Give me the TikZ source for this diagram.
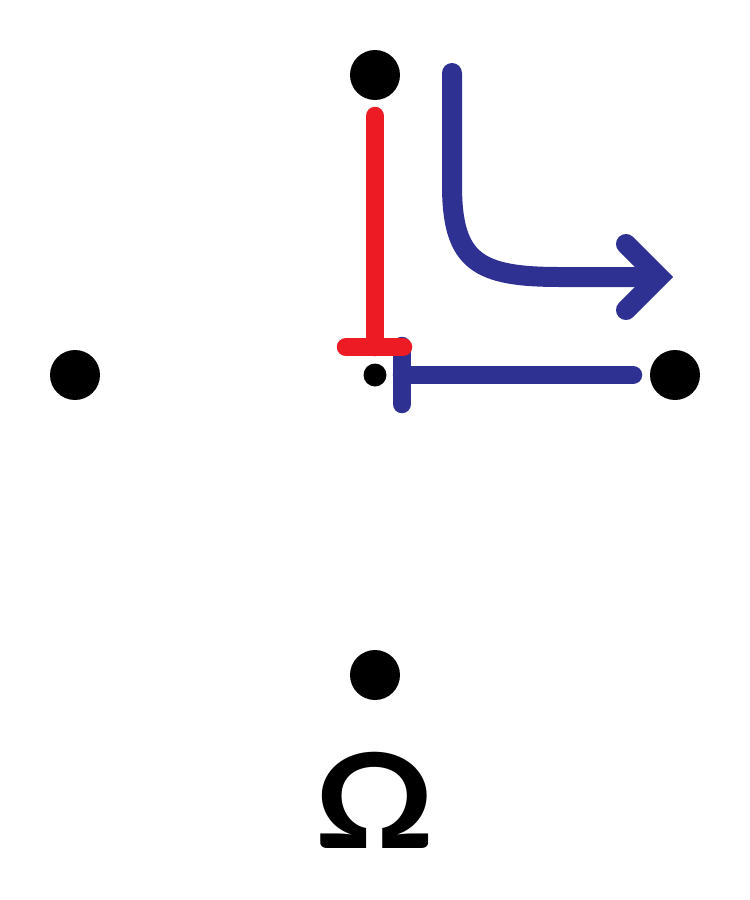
\documentclass[tikz,border=0pt]{standalone}
\usepackage{fontspec}
\newfontfamily\glyphfont{Lato}
\usetikzlibrary{calc}
\definecolor{inhred}{HTML}{ED1C24}
\definecolor{flowblue}{HTML}{2E3192}

\begin{document}
\begin{tikzpicture}[x=0.02cm, y=-0.02cm, line cap=round]
        \tikzstyle{site}=[circle, fill=black, minimum size=1cm, inner sep=0pt]
        \tikzstyle{centre}=[circle, fill=black, minimum size=0.46cm, inner sep=0pt]
        \tikzstyle{inhib}=[line width=0.37cm]
        \tikzstyle{flow}=[flowblue, line width=0.4cm]
        \useasboundingbox (0,0) rectangle (750,900);
        \node[site]   (top)    at (375,75)  {};
        \node[site]   (left)   at (75,375)  {};
        \node[site]   (right)  at (675,375) {};
        \node[site]   (bottom) at (375,675) {};
        \node[centre] (c)      at (375,375) {};
        % blue bar from the right
        \draw[inhib, flowblue] (633,375) -- (402,375);
        \draw[inhib, flowblue] (402,346) -- (402,404);
        % red bar from the top
        \draw[inhib, inhred] (375,116) -- (375,347);
        \draw[inhib, inhred] (346,347) -- (403,347);
        % bent arrow
        \draw[flow] (452,73) -- (452,185) .. controls (452,262) and (478,277) .. (560,277) -- (655,277);
        \draw[flow, line join=miter] (626,244) -- (659,277) -- (626,310);
        \node[inner sep=0pt, anchor=base] (omega) at (375,848) {\scalebox{1.12}[1]{\glyphfont\bfseries\fontsize{75}{80}\selectfont Ω}};
\end{tikzpicture}
\end{document}
